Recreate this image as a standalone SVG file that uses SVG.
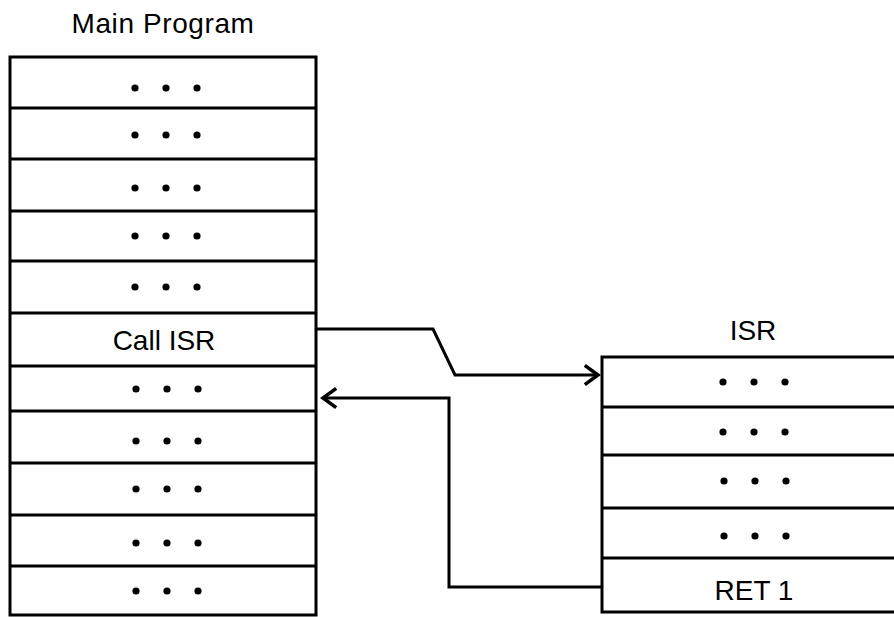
<svg xmlns="http://www.w3.org/2000/svg" width="894" height="617" viewBox="0 0 894 617">
  <style>
    .box { fill: #ffffff; stroke: #000000; stroke-width: 3; }
    .div { stroke: #000000; stroke-width: 3; fill: none; }
    .lbl { font-family: "Liberation Sans", Arial, Helvetica, sans-serif; font-size: 28px; fill: #000000; text-anchor: middle; }
    .dot { fill: #000000; }
    .conn { stroke: #000000; stroke-width: 3; fill: none; stroke-linejoin: miter; }
  </style>
  <defs>
    <marker id="chev" markerUnits="userSpaceOnUse" markerWidth="20" markerHeight="24" viewBox="-14 -10 16 20" refX="0" refY="0" orient="auto">
      <path d="M-11,-8 L0,0 L-11,8" fill="none" stroke="#000000" stroke-width="3"/>
    </marker>
    <g id="dots3">
      <circle class="dot" cx="0" cy="0" r="3.6"/>
      <circle class="dot" cx="31" cy="0" r="3.6"/>
      <circle class="dot" cx="62" cy="0" r="3.6"/>
    </g>
  </defs>
  <rect width="894" height="617" fill="#ffffff"/>

  <g id="main-program">
    <text class="lbl" x="163" y="33" letter-spacing="0.6">Main Program</text>
    <rect class="box" x="10" y="57" width="306" height="558"/>
    <line class="div" x1="10" y1="108" x2="316" y2="108"/>
    <line class="div" x1="10" y1="159" x2="316" y2="159"/>
    <line class="div" x1="10" y1="211" x2="316" y2="211"/>
    <line class="div" x1="10" y1="261" x2="316" y2="261"/>
    <line class="div" x1="10" y1="313" x2="316" y2="313"/>
    <line class="div" x1="10" y1="366" x2="316" y2="366"/>
    <line class="div" x1="10" y1="411" x2="316" y2="411"/>
    <line class="div" x1="10" y1="463" x2="316" y2="463"/>
    <line class="div" x1="10" y1="515" x2="316" y2="515"/>
    <line class="div" x1="10" y1="566" x2="316" y2="566"/>
    <use href="#dots3" x="135" y="88"/>
    <use href="#dots3" x="135" y="135"/>
    <use href="#dots3" x="135" y="188"/>
    <use href="#dots3" x="135" y="236"/>
    <use href="#dots3" x="135" y="287"/>
    <text class="lbl" x="164" y="350">Call ISR</text>
    <use href="#dots3" x="136" y="389"/>
    <use href="#dots3" x="136" y="441"/>
    <use href="#dots3" x="136" y="489"/>
    <use href="#dots3" x="136" y="543"/>
    <use href="#dots3" x="136" y="591"/>
  </g>

  <g id="isr">
    <text class="lbl" x="753" y="340">ISR</text>
    <rect class="box" x="602" y="357" width="306" height="255"/>
    <line class="div" x1="602" y1="407" x2="908" y2="407"/>
    <line class="div" x1="602" y1="455" x2="908" y2="455"/>
    <line class="div" x1="602" y1="508" x2="908" y2="508"/>
    <line class="div" x1="602" y1="558" x2="908" y2="558"/>
    <use href="#dots3" x="723" y="382"/>
    <use href="#dots3" x="723" y="432"/>
    <use href="#dots3" x="724" y="481"/>
    <use href="#dots3" x="724" y="536"/>
    <text class="lbl" x="754" y="600">RET 1</text>
  </g>

  <g id="connectors">
    <polyline class="conn" points="316,329 433,329 455,375 598,375" marker-end="url(#chev)"/>
    <polyline class="conn" points="602,587 449,587 449,398 323,398" marker-end="url(#chev)"/>
  </g>
</svg>
